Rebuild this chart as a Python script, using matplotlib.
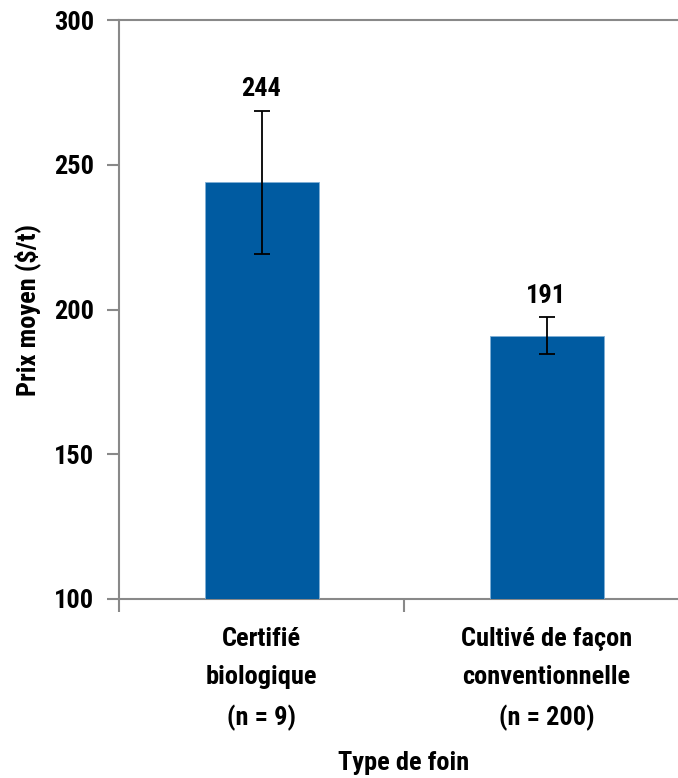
#!/usr/bin/env python3
"""Prix moyen du foin selon le type (bar chart with error bars)."""

import matplotlib
matplotlib.use("Agg")
import matplotlib.pyplot as plt
from matplotlib import font_manager

CATEGORIES = ["Certifié\nbiologique\n(n = 9)", "Cultivé de façon\nconventionnelle\n(n = 200)"]
PRIX = [244, 191]
ERREUR = [24.7, 6.3]
Y_TICKS = [100, 150, 200, 250, 300]

COLOR_BAR = "#005BA1"
COLOR_AXIS = "#898989"

# look for a condensed face, fall back to DejaVu Sans
names = {f.name for f in font_manager.fontManager.ttflist}
condensed = [f.name for f in font_manager.fontManager.ttflist
             if ("Narrow" in f.name or "Condensed" in f.name or f.stretch == "condensed"
                 or f.stretch == 75)]
narrow = None
for cand in ["Liberation Sans Narrow", "Roboto Condensed", "Open Sans Condensed", "DejaVu Sans Condensed"]:
    if cand in names:
        narrow = cand
        break
if narrow is None and condensed:
    narrow = condensed[0]

if narrow:
    FAMILY = [narrow, "DejaVu Sans"]
    SCALE = 1.0
else:
    FAMILY = ["DejaVu Sans"]
    SCALE = 0.8

plt.rcParams["font.family"] = FAMILY
plt.rcParams["font.weight"] = "bold"

fig = plt.figure(figsize=(6.78, 7.78), dpi=100)
ax = fig.add_axes([119 / 678, 1 - 599 / 778, 570 / 678, 579 / 778])

x = list(range(len(CATEGORIES)))
ax.bar(x, PRIX, width=0.4, color=COLOR_BAR, edgecolor="#7FAFD6", linewidth=0.6, zorder=3)
ax.errorbar(x, PRIX, yerr=ERREUR, fmt="none", ecolor="black", elinewidth=1.3,
            capsize=6, capthick=1.3, zorder=4)

for xi, v, e in zip(x, PRIX, ERREUR):
    ax.annotate(f"{v}", (xi, v + e), textcoords="offset points", xytext=(0, 7),
                ha="center", va="bottom", fontsize=19 * SCALE, fontweight="bold")

ax.set_xlim(-0.5, 1.5)
ax.set_ylim(Y_TICKS[0], Y_TICKS[-1])
ax.set_yticks(Y_TICKS)
ax.set_xticks([-0.5, 0.5, 1.5])
ax.set_xticklabels([])
ax.set_xticks(x, minor=True)
ax.set_xticklabels(CATEGORIES, minor=True, fontsize=19 * SCALE, fontweight="bold",
                   linespacing=1.75)
ax.tick_params(axis="x", which="minor", length=0, pad=20)
ax.tick_params(axis="x", which="major", length=9, width=1.5, color=COLOR_AXIS, direction="out")
ax.tick_params(axis="y", length=9, width=1.5, color=COLOR_AXIS, labelsize=19 * SCALE, pad=9)
for lbl in ax.get_yticklabels():
    lbl.set_fontweight("bold")

for side in ["left", "bottom", "top"]:
    ax.spines[side].set_color(COLOR_AXIS)
    ax.spines[side].set_linewidth(1.5)
ax.spines["right"].set_visible(False)

ax.set_ylabel("Prix moyen ($/t)", fontsize=19 * SCALE, fontweight="bold")
ax.yaxis.set_label_coords(-0.136, 0.5)
ax.set_xlabel("Type de foin", fontsize=19 * SCALE, fontweight="bold")
ax.xaxis.set_label_coords(0.5, -0.262)

fig.savefig("out.png", dpi=100)
